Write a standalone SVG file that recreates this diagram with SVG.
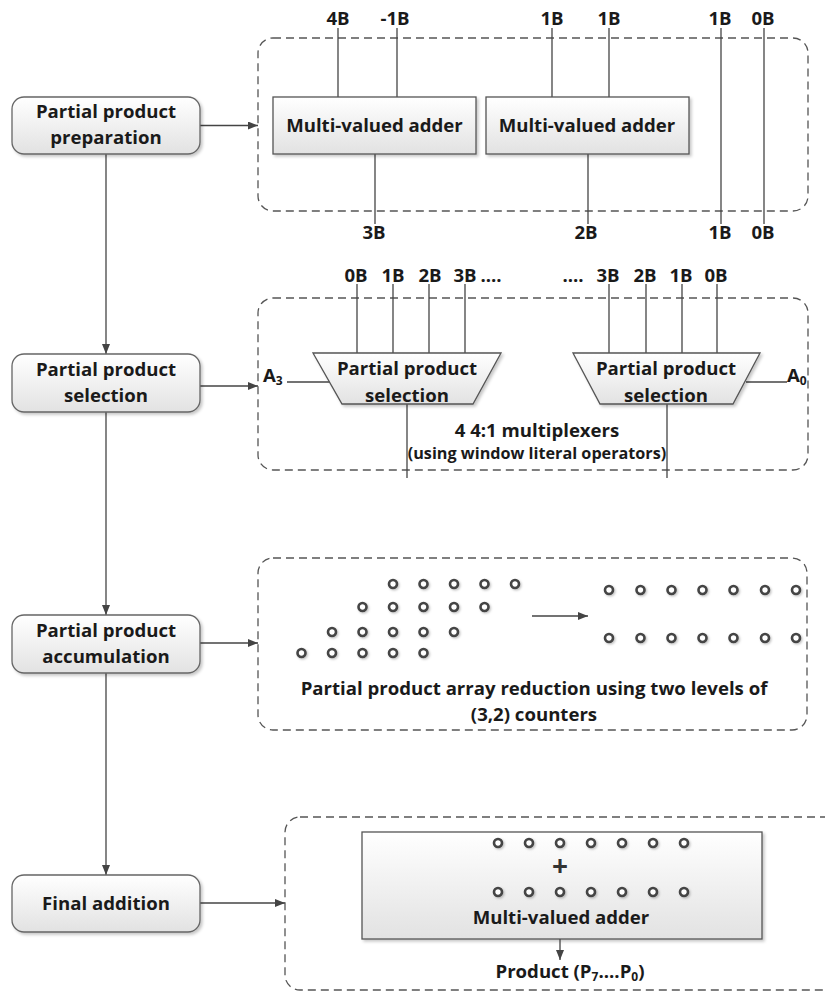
<svg xmlns="http://www.w3.org/2000/svg" width="825" height="991" viewBox="0 0 825 991">
<defs>
<linearGradient id="gf" x1="0" y1="0" x2="0" y2="1">
<stop offset="0" stop-color="#ffffff"/>
<stop offset="1" stop-color="#e2e2e2"/>
</linearGradient>
<filter id="sh" x="-10%" y="-10%" width="130%" height="140%">
<feDropShadow dx="2" dy="2" stdDeviation="1.5" flood-color="#000" flood-opacity="0.22"/>
</filter>
<filter id="dsh" x="-50%" y="-50%" width="250%" height="250%">
<feDropShadow dx="1.2" dy="1.2" stdDeviation="0.8" flood-color="#000" flood-opacity="0.25"/>
</filter>
<marker id="ah" markerWidth="11" markerHeight="9" refX="10" refY="4" orient="auto" markerUnits="userSpaceOnUse">
<path d="M0,0 L10,4 L0,8 z" fill="#444"/>
</marker>
<g id="dot"><circle r="4" class="dot"/></g>
</defs>
<style>
.t{font-family:"Open Sans",Lato,"Liberation Sans",sans-serif;font-weight:bold;font-size:18.6px;fill:#1a1a1a;text-anchor:middle}
.s{font-size:16.2px}
.w{stroke:#444;stroke-width:1.3;fill:none}
.a{stroke:#444;stroke-width:1.3;fill:none;marker-end:url(#ah)}
.dash{stroke:#555;stroke-width:1.3;fill:none;stroke-dasharray:8 5}
.box{fill:url(#gf);stroke:#666;stroke-width:1.3;filter:url(#sh)}
.blk{fill:url(#gf);stroke:#555;stroke-width:1.3;filter:url(#sh)}
.dot{fill:#fff;stroke:#444;stroke-width:2.6;filter:url(#dsh)}
</style>

<g id="connectors">
<line class="a" x1="106" y1="154" x2="106" y2="354"/>
<line class="a" x1="106" y1="412" x2="106" y2="615"/>
<line class="a" x1="106" y1="673" x2="106" y2="875"/>
<line class="a" x1="200" y1="125.5" x2="258" y2="125.5"/>
<line class="a" x1="200" y1="386" x2="258" y2="386"/>
<line class="a" x1="200" y1="643" x2="258" y2="643"/>
<line class="a" x1="200" y1="903" x2="285" y2="903"/>
</g>

<g id="step-preparation">
<rect class="box" x="12" y="97" width="188" height="57" rx="12"/>
<text class="t" x="106" y="118">Partial product</text>
<text class="t" x="106" y="144">preparation</text>
</g>
<g id="step-selection">
<rect class="box" x="12" y="354" width="188" height="58" rx="12"/>
<text class="t" x="106" y="376">Partial product</text>
<text class="t" x="106" y="402">selection</text>
</g>
<g id="step-accumulation">
<rect class="box" x="12" y="615" width="188" height="58" rx="12"/>
<text class="t" x="106" y="637">Partial product</text>
<text class="t" x="106" y="663">accumulation</text>
</g>
<g id="step-final">
<rect class="box" x="12" y="875" width="188" height="57" rx="12"/>
<text class="t" x="106" y="910">Final addition</text>
</g>

<g id="panel-preparation">
<rect class="dash" x="258" y="38" width="550" height="173" rx="15"/>
<line class="w" x1="338" y1="28" x2="338" y2="97"/>
<line class="w" x1="397" y1="28" x2="397" y2="97"/>
<line class="w" x1="552" y1="28" x2="552" y2="97"/>
<line class="w" x1="609" y1="28" x2="609" y2="97"/>
<line class="w" x1="721" y1="28" x2="721" y2="224"/>
<line class="w" x1="764" y1="28" x2="764" y2="224"/>
<line class="w" x1="375" y1="154" x2="375" y2="224"/>
<line class="w" x1="588" y1="154" x2="588" y2="224"/>
<g id="adder-1">
<rect class="blk" x="273" y="97" width="203" height="57"/>
<text class="t" x="374.5" y="132">Multi-valued adder</text>
</g>
<g id="adder-2">
<rect class="blk" x="486" y="97" width="203" height="57"/>
<text class="t" x="587" y="132">Multi-valued adder</text>
</g>
<text class="t" x="338" y="25">4B</text>
<text class="t" x="395" y="25">-1B</text>
<text class="t" x="552" y="25">1B</text>
<text class="t" x="609" y="25">1B</text>
<text class="t" x="720" y="25">1B</text>
<text class="t" x="763" y="25">0B</text>
<text class="t" x="374" y="239">3B</text>
<text class="t" x="586" y="239">2B</text>
<text class="t" x="720" y="239">1B</text>
<text class="t" x="763" y="239">0B</text>
</g>

<g id="panel-selection">
<rect class="dash" x="258" y="298" width="550" height="172" rx="15"/>
<line class="w" x1="357" y1="284" x2="357" y2="353"/>
<line class="w" x1="393" y1="284" x2="393" y2="353"/>
<line class="w" x1="429" y1="284" x2="429" y2="353"/>
<line class="w" x1="465" y1="284" x2="465" y2="353"/>
<line class="w" x1="609" y1="284" x2="609" y2="353"/>
<line class="w" x1="646" y1="284" x2="646" y2="353"/>
<line class="w" x1="682" y1="284" x2="682" y2="353"/>
<line class="w" x1="717" y1="284" x2="717" y2="353"/>
<line class="w" x1="407" y1="404" x2="407" y2="478"/>
<line class="w" x1="667" y1="404" x2="667" y2="478"/>
<line class="w" x1="287" y1="382" x2="332" y2="382"/>
<line class="w" x1="746" y1="382" x2="787" y2="382"/>
<g id="mux-1">
<polygon class="blk" points="313,353 501,353 473,404 342,404"/>
<text class="t" x="407" y="375">Partial product</text>
<text class="t" x="407" y="402">selection</text>
</g>
<g id="mux-2">
<polygon class="blk" points="573,353 760,353 733,404 600,404"/>
<text class="t" x="666" y="375">Partial product</text>
<text class="t" x="666" y="402">selection</text>
</g>
<text class="t" x="356" y="282">0B</text>
<text class="t" x="393" y="282">1B</text>
<text class="t" x="430" y="282">2B</text>
<text class="t" x="465" y="282">3B</text>
<text class="t" x="491" y="282">....</text>
<text class="t" x="573" y="282">....</text>
<text class="t" x="608" y="282">3B</text>
<text class="t" x="645" y="282">2B</text>
<text class="t" x="681" y="282">1B</text>
<text class="t" x="716" y="282">0B</text>
<text class="t" x="263" y="382" style="text-anchor:start">A<tspan style="font-size:12px" dy="3">3</tspan></text>
<text class="t" x="787" y="382" style="text-anchor:start">A<tspan style="font-size:12px" dy="3">0</tspan></text>
<text class="t" x="537" y="437">4 4:1 multiplexers</text>
<text class="t s" x="537" y="459">(using window literal operators)</text>
</g>

<g id="panel-accumulation">
<rect class="dash" x="258" y="558" width="549" height="172" rx="15"/>
<g id="dots-left">
<use href="#dot" x="393" y="584"/><use href="#dot" x="423.5" y="584"/><use href="#dot" x="454" y="584"/><use href="#dot" x="484.5" y="584"/><use href="#dot" x="515" y="584"/>
<use href="#dot" x="362.5" y="607"/><use href="#dot" x="393" y="607"/><use href="#dot" x="423.5" y="607"/><use href="#dot" x="454" y="607"/><use href="#dot" x="484.5" y="607"/>
<use href="#dot" x="332" y="632"/><use href="#dot" x="362.5" y="632"/><use href="#dot" x="393" y="632"/><use href="#dot" x="423.5" y="632"/><use href="#dot" x="454" y="632"/>
<use href="#dot" x="301.5" y="653"/><use href="#dot" x="332" y="653"/><use href="#dot" x="362.5" y="653"/><use href="#dot" x="393" y="653"/><use href="#dot" x="423.5" y="653"/>
</g>
<line class="a" x1="532" y1="616" x2="588" y2="616"/>
<g id="dots-right">
<use href="#dot" x="609" y="590"/><use href="#dot" x="640.5" y="590"/><use href="#dot" x="671.5" y="590"/><use href="#dot" x="702.5" y="590"/><use href="#dot" x="733.5" y="590"/><use href="#dot" x="765" y="590"/><use href="#dot" x="796" y="590"/>
<use href="#dot" x="609" y="638"/><use href="#dot" x="640.5" y="638"/><use href="#dot" x="671.5" y="638"/><use href="#dot" x="702.5" y="638"/><use href="#dot" x="733.5" y="638"/><use href="#dot" x="765" y="638"/><use href="#dot" x="796" y="638"/>
</g>
<text class="t" x="534" y="695">Partial product array reduction using two levels of</text>
<text class="t" x="534" y="721">(3,2) counters</text>
</g>

<g id="panel-final">
<rect class="dash" x="285" y="817" width="580" height="173" rx="15"/>
<g id="final-adder">
<rect class="blk" x="362" y="832" width="400" height="107"/>
<use href="#dot" x="498" y="843"/><use href="#dot" x="529" y="843"/><use href="#dot" x="560" y="843"/><use href="#dot" x="591" y="843"/><use href="#dot" x="622" y="843"/><use href="#dot" x="653" y="843"/><use href="#dot" x="684" y="843"/>
<text class="t" x="560" y="876" style="font-size:28px;fill:#333">+</text>
<use href="#dot" x="498" y="892"/><use href="#dot" x="529" y="892"/><use href="#dot" x="560" y="892"/><use href="#dot" x="591" y="892"/><use href="#dot" x="622" y="892"/><use href="#dot" x="653" y="892"/><use href="#dot" x="684" y="892"/>
<text class="t" x="561" y="924">Multi-valued adder</text>
</g>
<line class="a" x1="560" y1="939" x2="560" y2="960"/>
<text class="t" x="570" y="978">Product (P<tspan style="font-size:12px" dy="3">7</tspan><tspan dy="-3">....P</tspan><tspan style="font-size:12px" dy="3">0</tspan><tspan dy="-3">)</tspan></text>
</g>
</svg>
